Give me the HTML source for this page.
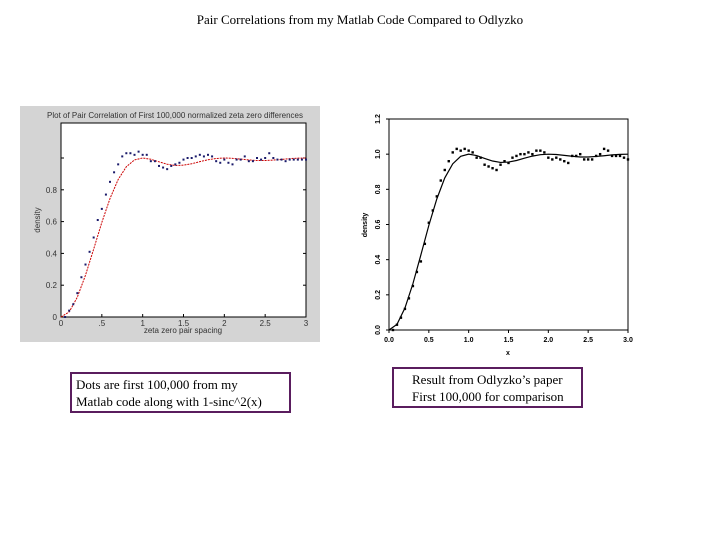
<!DOCTYPE html>
<html><head><meta charset="utf-8"><style>
body{margin:0;background:#fff;width:720px;height:540px;overflow:hidden;position:relative;font-family:"Liberation Serif",serif}
.t{position:absolute;font-size:13px;color:#000}
.box{position:absolute;font-size:13px;line-height:17px;box-sizing:border-box;padding:2px 4px}
</style></head><body>
<div class="t" style="left:0;width:720px;text-align:center;top:12px">Pair Correlations from my Matlab Code Compared to Odlyzko</div>
<svg width="720" height="540" style="position:absolute;left:0;top:0" id="svg">
<rect x="20" y="106" width="300" height="236" fill="#d4d4d4"/>
<rect x="61" y="123" width="245" height="194" fill="#fff" stroke="#000" stroke-width="1"/>
<text x="175" y="118" font-size="8" text-anchor="middle" fill="#333" font-family="Liberation Sans">Plot of Pair Correlation of First 100,000 normalized zeta zero differences</text>
<text x="183" y="333" font-size="8" text-anchor="middle" fill="#333" font-family="Liberation Sans">zeta zero pair spacing</text>
<text x="40" y="220" font-size="8" text-anchor="middle" fill="#333" font-family="Liberation Sans" transform="rotate(-90 40 220)">density</text>
<rect x="389" y="119" width="239" height="211" fill="none" stroke="#000" stroke-width="1"/>
<text x="508" y="355" font-size="7" text-anchor="middle" font-family="Liberation Sans" font-weight="bold">x</text>
<text x="367" y="225" font-size="7" text-anchor="middle" font-family="Liberation Sans" font-weight="bold" transform="rotate(-90 367 225)">density</text>
<g id="L"></g><g id="R"></g>
</svg>
<div class="box" style="left:70px;top:372px;width:221px;height:41px;border:2px solid #5a1d5e">Dots are first 100,000 from my<br>Matlab code along with 1-sinc^2(x)</div>
<div class="box" style="left:392px;top:367px;width:191px;height:41px;border:2px solid #5a1d5e;padding-left:18px">Result from Odlyzko’s paper<br>First 100,000 for comparison</div>
<script>
const curveX=[0,0.1,0.2,0.3,0.4,0.5,0.6,0.7,0.8,0.9,1.0,1.1,1.2,1.3,1.4,1.5,1.6,1.7,1.8,1.9,2.0,2.1,2.2,2.3,2.4,2.5,2.6,2.7,2.8,2.9,3.0];
const curveY=[0,0.032,0.125,0.263,0.427,0.595,0.745,0.865,0.945,0.988,1.0,0.992,0.976,0.961,0.953,0.955,0.964,0.977,0.989,0.997,1.0,0.998,0.993,0.988,0.984,0.984,0.987,0.991,0.996,0.999,1.0];
const dotX=[0.05,0.1,0.15,0.2,0.25,0.3,0.35,0.4,0.45,0.5,0.55,0.6,0.65,0.7,0.75,0.8,0.85,0.9,0.95,1.0,1.05,1.1,1.15,1.2,1.25,1.3,1.35,1.4,1.45,1.5,1.55,1.6,1.65,1.7,1.75,1.8,1.85,1.9,1.95,2.0,2.05,2.1,2.15,2.2,2.25,2.3,2.35,2.4,2.45,2.5,2.55,2.6,2.65,2.7,2.75,2.8,2.85,2.9,2.95,3.0];
const dotsRight=[0,0.03,0.07,0.12,0.18,0.25,0.33,0.39,0.49,0.61,0.68,0.76,0.85,0.91,0.96,1.01,1.03,1.02,1.03,1.02,1.01,0.98,0.98,0.94,0.93,0.92,0.91,0.94,0.96,0.95,0.98,0.99,1.0,1.0,1.01,1.0,1.02,1.02,1.01,0.98,0.97,0.98,0.97,0.96,0.95,0.99,0.99,1.0,0.97,0.97,0.97,0.99,1.0,1.03,1.02,0.99,0.99,0.99,0.98,0.97];
const dotsLeft=[0,0.04,0.08,0.15,0.25,0.33,0.41,0.5,0.61,0.68,0.77,0.85,0.91,0.96,1.01,1.03,1.03,1.02,1.04,1.02,1.02,0.98,0.98,0.95,0.94,0.93,0.95,0.96,0.97,0.99,1.0,1.0,1.01,1.02,1.01,1.02,1.01,0.98,0.97,0.99,0.97,0.96,0.99,0.99,1.01,0.98,0.98,1.0,0.99,1.0,1.03,1.0,0.99,0.99,0.98,0.99,0.99,0.99,0.99,0.99];
const leftTicksX=["0",".5","1","1.5","2","2.5","3"];
const leftTicksY=["0","0.2","0.4","0.6","0.8"];
const rightTicksX=["0.0","0.5","1.0","1.5","2.0","2.5","3.0"];
const rightTicksY=["0.0","0.2","0.4","0.6","0.8","1.0","1.2"];
const NS="http://www.w3.org/2000/svg";
function mk(p,t,a){const e=document.createElementNS(NS,t);for(const k in a)e.setAttribute(k,a[k]);p.appendChild(e);return e;}
// left
const L=document.getElementById('L');
const lx=v=>61+v*(245/3), ly=v=>317-v*159;
leftTicksX.forEach((s,i)=>{const x=lx(i*0.5);
 const tk=mk(L,'line',{x1:x,y1:317,x2:x,y2:314,stroke:'#000'});
 
 
 const t=mk(L,'text',{x:x,y:326,'font-size':8,'text-anchor':'middle','font-family':'Liberation Sans',fill:'#333'});t.textContent=s;
 
 });
leftTicksY.concat(["1"]).forEach((s,i)=>{const y=ly(i*0.2);
 const tk=mk(L,'line',{x1:61,y1:y,x2:64,y2:y,stroke:'#000'});
 
 
 mk(L,'line',{x1:306,y1:y,x2:303,y2:y,stroke:'#000'});
 if(i<5){const t=mk(L,'text',{x:57,y:y+3,'font-size':8,'text-anchor':'end','font-family':'Liberation Sans',fill:'#333'});t.textContent=s;
 
 }});
const lc=mk(L,'polyline',{points:curveX.map((x,i)=>lx(x)+','+ly(curveY[i])).join(' '),fill:'none',stroke:'#c00','stroke-width':1,'stroke-dasharray':'2,1'});


dotX.forEach((x,i)=>{const r=mk(L,'rect',{x:lx(x)-1,y:ly(dotsLeft[i])-1,width:2,height:2,fill:'#1a1a6a'});
 
 });
// right
const R=document.getElementById('R');
const rx=v=>389+v*(239/3), ry=v=>330-v*(211/1.2);
rightTicksX.forEach((s,i)=>{const x=rx(i*0.5);
 const tk=mk(R,'line',{x1:x,y1:330,x2:x,y2:333,stroke:'#000'});
 
 
 const t=mk(R,'text',{x:x,y:342,'font-size':7,'text-anchor':'middle','font-family':'Liberation Sans','font-weight':'bold'});t.textContent=s;
 
 });
rightTicksY.forEach((s,i)=>{const y=ry(i*0.2);
 const tk=mk(R,'line',{x1:389,y1:y,x2:386,y2:y,stroke:'#000'});
 
 
 const t=mk(R,'text',{x:380,y:y,'font-size':7,'text-anchor':'middle','font-family':'Liberation Sans','font-weight':'bold',transform:'rotate(-90 380 '+y+')'});t.textContent=s;
 
 });
const rc=mk(R,'polyline',{points:curveX.map((x,i)=>rx(x)+','+ry(curveY[i])).join(' '),fill:'none',stroke:'#000','stroke-width':1.2});


dotX.forEach((x,i)=>{const r=mk(R,'rect',{x:rx(x)-1.2,y:ry(dotsRight[i])-1.2,width:2.4,height:2.4,fill:'#000'});
 
 });
</script>
</body></html>
